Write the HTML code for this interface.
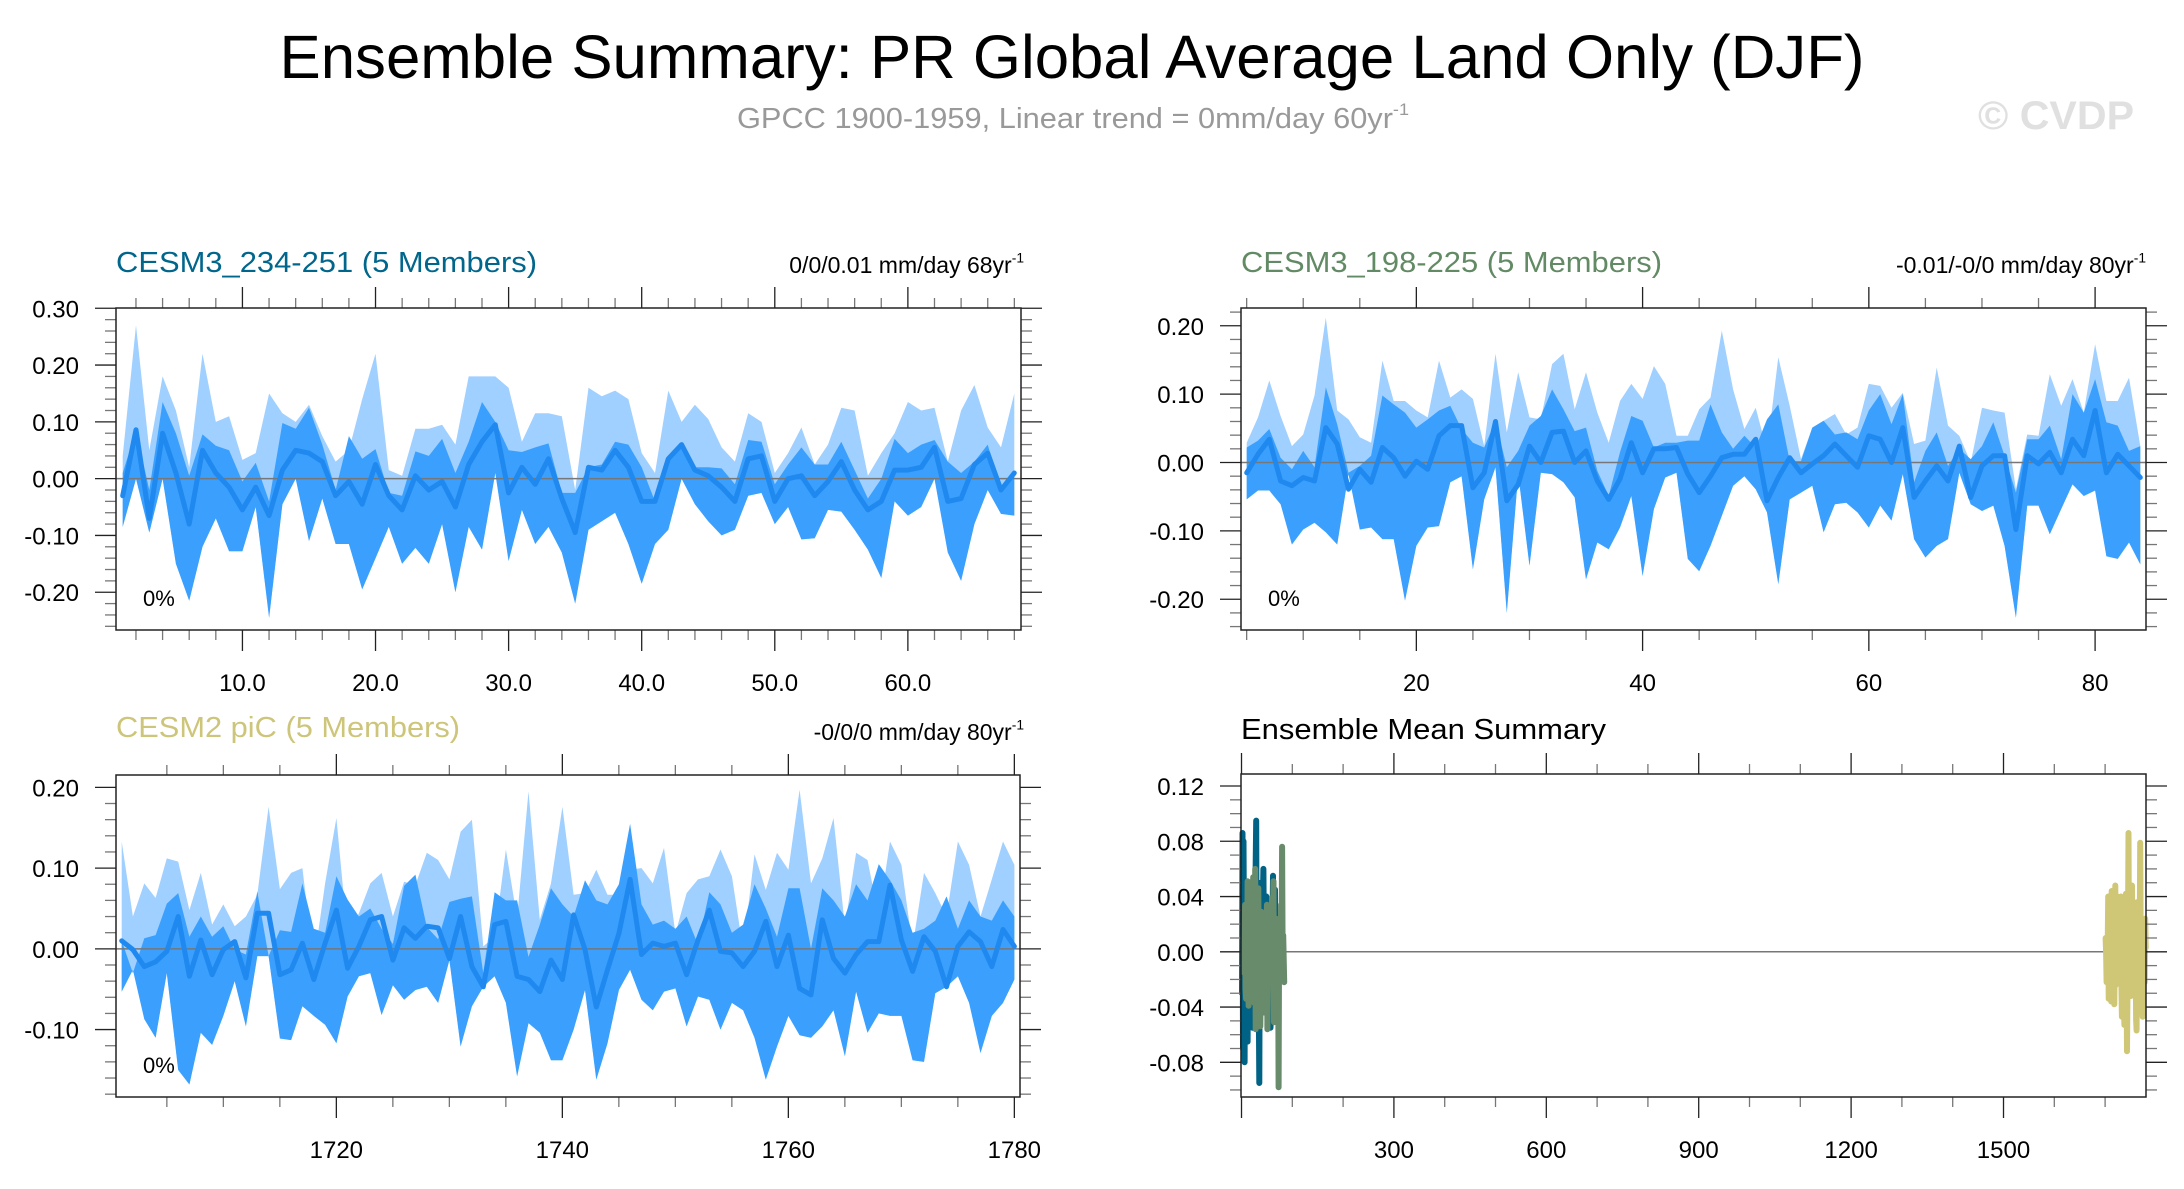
<!DOCTYPE html>
<html><head><meta charset="utf-8"><title>Ensemble Summary</title>
<style>html,body{margin:0;padding:0;background:#fff;}svg{display:block;font-family:"Liberation Sans",Arial,sans-serif;}</style>
</head><body>
<svg id="chart" xmlns="http://www.w3.org/2000/svg" width="2184" height="1189" viewBox="0 0 2184 1189">
<rect x="0" y="0" width="2184" height="1189" fill="#fff"/>
<text x="1072" y="78" text-anchor="middle" font-size="61" fill="#000" textLength="1585" lengthAdjust="spacingAndGlyphs">Ensemble Summary: PR Global Average Land Only (DJF)</text>
<text x="737" y="128" font-size="29" fill="#999" textLength="672" lengthAdjust="spacingAndGlyphs">GPCC 1900-1959, Linear trend = 0mm/day 60yr<tspan font-size="17" dy="-13">-1</tspan></text>
<text x="1978" y="129" font-size="40" font-weight="bold" fill="#e0e0e0" textLength="156" lengthAdjust="spacingAndGlyphs">© CVDP</text>
<g id="plots"></g>
</svg>
<script>
// ---- Panel 1: CESM3_234-251 ----
const p1Years = [];
for (let i = 1; i <= 68; i++) p1Years.push(i);
const p1Mean = [-0.03,0.086,-0.07,0.08,0.01,-0.08,0.05,0.01,-0.015,-0.055,-0.015,-0.065,0.015,0.05,0.045,0.03,-0.03,-0.005,-0.045,0.025,-0.03,-0.055,0.005,-0.02,-0.005,-0.05,0.025,0.065,0.095,-0.025,0.02,-0.01,0.035,-0.035,-0.095,0.02,0.015,0.05,0.02,-0.04,-0.04,0.035,0.06,0.015,0.005,-0.015,-0.04,0.035,0.04,-0.04,0,0.005,-0.03,-0.005,0.03,-0.02,-0.055,-0.04,0.015,0.015,0.02,0.055,-0.04,-0.035,0.025,0.045,-0.02,0.01];
const p1Max = [0.04,0.27,0.05,0.18,0.12,0.02,0.22,0.10,0.11,0.033,0.045,0.15,0.115,0.10,0.13,0.075,0.03,0.05,0.14,0.22,0.015,0.005,0.088,0.088,0.095,0.06,0.18,0.18,0.18,0.16,0.065,0.115,0.115,0.11,-0.02,0.16,0.145,0.155,0.14,0.045,0.01,0.155,0.10,0.13,0.105,0.055,0.03,0.115,0.10,0.01,0.045,0.09,0.025,0.06,0.125,0.12,0.005,0.045,0.08,0.135,0.12,0.125,0.03,0.12,0.165,0.09,0.055,0.15];
const p1Upper = [0.01,0.085,-0.02,0.135,0.08,0.005,0.078,0.058,0.05,-0.005,0.028,-0.04,0.098,0.088,0.125,0.06,-0.02,0.075,0.035,0.052,-0.025,-0.03,0.048,0.04,0.07,0.01,0.065,0.135,0.10,0.05,0.047,0.055,0.062,-0.025,-0.025,0.02,0.025,0.065,0.06,0.02,-0.04,0.035,0.055,0.02,0.02,0.018,-0.01,0.068,0.065,-0.01,0.025,0.055,0.025,0.025,0.065,0.015,-0.035,0.0,0.07,0.045,0.06,0.068,0.03,0.01,0.03,0.06,-0.02,0.005];
const p1Min = [-0.085,0.0,-0.095,0.0,-0.15,-0.215,-0.12,-0.07,-0.128,-0.128,-0.05,-0.245,-0.045,0.0,-0.11,-0.035,-0.115,-0.115,-0.195,-0.14,-0.085,-0.15,-0.122,-0.15,-0.08,-0.2,-0.085,-0.125,0.01,-0.145,-0.055,-0.115,-0.085,-0.13,-0.22,-0.09,-0.075,-0.06,-0.115,-0.185,-0.115,-0.09,0.0,-0.045,-0.075,-0.1,-0.09,-0.03,-0.025,-0.08,-0.05,-0.107,-0.105,-0.055,-0.058,-0.09,-0.125,-0.175,-0.04,-0.065,-0.05,0.0,-0.13,-0.18,-0.08,-0.02,-0.062,-0.065];
const p1XTicks = ["10.0","20.0","30.0","40.0","50.0","60.0"];
const p1YTicks = ["-0.20","-0.10","0.00","0.10","0.20","0.30"];

// ---- Panel 2: CESM3_198-225 ----
const p2Years = [];
for (let i = 5; i <= 84; i++) p2Years.push(i);
const p2Mean = [-0.015,0.012,0.034,-0.027,-0.034,-0.022,-0.027,0.051,0.027,-0.039,-0.010,-0.029,0.022,0.007,-0.020,0.002,-0.010,0.039,0.054,0.054,-0.037,-0.015,0.060,-0.056,-0.032,0.024,0,0.044,0.046,0,0.017,-0.027,-0.054,-0.024,0.029,-0.015,0.020,0.020,0.022,-0.017,-0.044,-0.020,0.007,0.012,0.012,0.034,-0.056,-0.022,0.007,-0.015,-0.002,0.010,0.027,0.010,-0.007,0.039,0.034,0,0.051,-0.051,-0.027,-0.005,-0.027,0.024,-0.051,-0.005,0.010,0.010,-0.098,0.010,-0.002,0.015,-0.015,0.034,0.010,0.076,-0.015,0.012,-0.005,-0.022];
const p2Max = [0.029,0.066,0.120,0.068,0.024,0.041,0.098,0.212,0.076,0.063,0.037,0.029,0.149,0.090,0.090,0.076,0.066,0.149,0.095,0.107,0.093,0.024,0.159,0.044,0.132,0.066,0.063,0.144,0.159,0.078,0.132,0.073,0.029,0.090,0.115,0.093,0.141,0.115,0.039,0.039,0.078,0.095,0.193,0.107,0.049,0.080,0.017,0.154,0.083,0.005,0.051,0.061,0.071,0.041,0.051,0.115,0.112,0.080,0.102,0.027,0.032,0.139,0.054,0.039,0.0,0.080,0.076,0.073,-0.039,0.041,0.039,0.129,0.083,0.122,0.073,0.173,0.090,0.090,0.124,0.024];
const p2Upper = [0.022,0.032,0.049,0.007,-0.010,0.017,-0.007,0.110,0.056,-0.015,-0.005,0.010,0.098,0.085,0.073,0.051,0.063,0.076,0.083,0.049,0.029,0.022,0.061,-0.007,0.017,0.054,0.068,0.107,0.078,0.046,0.051,-0.012,-0.049,0.015,0.068,0.061,0.022,0.029,0.029,0.032,0.032,0.085,0.044,0.020,0.039,0.022,0.063,0.085,0.002,0.002,0.051,0.061,0.041,0.044,0.034,0.076,0.100,0.056,0.100,-0.029,0.017,0.044,-0.005,0.020,0.005,0.024,0.059,0.010,-0.044,0.034,0.034,0.054,0.005,0.100,0.073,0.122,0.059,0.054,0.017,0.024];
const p2Min = [-0.054,-0.041,-0.041,-0.061,-0.120,-0.098,-0.088,-0.102,-0.120,-0.017,-0.098,-0.095,-0.112,-0.112,-0.202,-0.122,-0.095,-0.093,-0.029,-0.020,-0.156,-0.054,-0.007,-0.220,-0.017,-0.151,-0.015,-0.017,-0.029,-0.051,-0.171,-0.117,-0.127,-0.095,-0.049,-0.166,-0.068,-0.022,-0.015,-0.141,-0.159,-0.122,-0.078,-0.034,-0.020,-0.039,-0.073,-0.178,-0.054,-0.044,-0.034,-0.102,-0.061,-0.059,-0.073,-0.095,-0.063,-0.085,-0.017,-0.112,-0.139,-0.122,-0.112,-0.015,-0.061,-0.071,-0.063,-0.122,-0.227,-0.063,-0.063,-0.105,-0.068,-0.032,-0.049,-0.041,-0.137,-0.141,-0.117,-0.149];
const p2XTicks = ["20","40","60","80"];
const p2YTicks = ["-0.20","-0.10","0.00","0.10","0.20"];

// ---- Panel 3: CESM2 piC ----
const p3Years = [];
for (let i = 1701; i <= 1780; i++) p3Years.push(i);
const p3Mean = [0.010,-0.001,-0.022,-0.016,-0.003,0.040,-0.034,0.011,-0.032,-0.001,0.009,-0.036,0.044,0.044,-0.032,-0.026,0.007,-0.038,0.007,0.048,-0.024,0.003,0.036,0.040,-0.014,0.026,0.013,0.028,0.026,-0.012,0.040,-0.022,-0.047,0.030,0.034,-0.034,-0.038,-0.053,-0.014,-0.038,0.042,-0.001,-0.072,-0.026,0.019,0.086,-0.007,0.007,0.003,0.007,-0.032,0.011,0.048,-0.003,-0.005,-0.022,-0.003,0.034,-0.022,0.017,-0.049,-0.057,0.036,-0.012,-0.030,-0.007,0.009,0.009,0.079,0.011,-0.028,0.015,-0.003,-0.047,0.003,0.021,0.009,-0.022,0.024,0.003];
const p3Max = [0.133,0.040,0.081,0.063,0.112,0.108,0.048,0.094,0.030,0.055,0.028,0.040,0.067,0.176,0.074,0.094,0.100,-0.018,0.081,0.162,0.015,0.044,0.081,0.094,0.040,0.083,0.079,0.119,0.110,0.086,0.145,0.160,0.003,0.015,0.123,0.038,0.195,0.036,0.081,0.176,0.067,0.069,0.098,0.067,0.067,0.098,0.100,0.081,0.125,0.019,0.069,0.086,0.090,0.123,0.090,-0.001,0.117,0.073,0.119,0.098,0.197,0.081,0.112,0.162,0.028,0.119,0.110,0.040,0.133,0.104,0.003,0.094,0.069,0.040,0.133,0.104,0.040,0.086,0.133,0.104];
const p3Upper = [0.010,-0.030,0.013,0.017,0.056,0.069,0.015,0.040,0.015,0.028,-0.001,-0.007,0.071,-0.009,0.023,0.021,0.081,0.025,0.020,0.090,0.061,0.040,0.050,0.025,0.006,0.078,0.092,0.027,0.012,0.058,0.062,0.065,-0.030,0.070,0.060,0.060,-0.010,0.030,0.075,0.055,0.040,0.085,0.060,0.055,0.080,0.155,0.055,0.030,0.035,0.025,0.040,0.005,0.070,0.055,0.020,0.030,0.080,0.050,0.015,0.075,0.075,0.000,0.075,0.060,0.040,0.080,0.060,0.105,0.085,0.060,0.020,0.025,0.035,0.065,0.025,0.060,0.040,0.035,0.060,0.040];
const p3Min = [-0.053,-0.026,-0.087,-0.110,-0.030,-0.150,-0.168,-0.104,-0.119,-0.083,-0.040,-0.096,-0.009,-0.009,-0.111,-0.113,-0.071,-0.083,-0.094,-0.117,-0.059,-0.034,-0.030,-0.082,-0.045,-0.063,-0.051,-0.047,-0.067,-0.014,-0.121,-0.071,-0.047,-0.034,-0.067,-0.158,-0.092,-0.104,-0.138,-0.138,-0.100,-0.051,-0.162,-0.117,-0.051,-0.026,-0.063,-0.076,-0.053,-0.049,-0.096,-0.059,-0.063,-0.100,-0.067,-0.076,-0.110,-0.162,-0.121,-0.083,-0.107,-0.110,-0.096,-0.076,-0.133,-0.053,-0.104,-0.080,-0.083,-0.083,-0.138,-0.140,-0.055,-0.047,-0.034,-0.067,-0.129,-0.083,-0.067,-0.038];
const p3XTicks = ["1720","1740","1760","1780"];
const p3YTicks = ["-0.10","0.00","0.10","0.20"];

// ---- Panel 4: ensemble means ----
const p4XTicks = ["300","600","900","1200","1500"];
const p4YTicks = ["-0.08","-0.04","0.00","0.04","0.08","0.12"];

const NS = "http://www.w3.org/2000/svg";
const root = document.getElementById('plots');
function mk(tag, parent) { const e = document.createElementNS(NS, tag); parent.appendChild(e); return e; }

const panels = [
  {key:'p1', box:[116,308,1021,630], xd:[0.5,68.5], yd:[-0.2665,0.3005], xMaj:10, xMin:2, xStart:10, yMaj:0.1, yMin:0.02, yStart:-0.2, xt:p1XTicks, yt:p1YTicks},
  {key:'p2', box:[1241,308,2146,630], xd:[4.5,84.5], yd:[-0.245,0.226], xMaj:20, xMin:5, xStart:20, yMaj:0.1, yMin:0.02, yStart:-0.2, xt:p2XTicks, yt:p2YTicks},
  {key:'p3', box:[116,775,1020,1097], xd:[1700.5,1780.5], yd:[-0.1835,0.2153], xMaj:20, xMin:5, xStart:1720, yMaj:0.1, yMin:0.02, yStart:-0.1, xt:p3XTicks, yt:p3YTicks},
  {key:'p4', box:[1241,774,2146,1097], xd:[-1,1780.5], yd:[-0.1051,0.1287], xMaj:300, xMin:100, xStart:300, yMaj:0.04, yMin:0.01, yStart:-0.08, xt:p4XTicks, yt:p4YTicks}
];

function scales(p) {
  const [x0,y0,x1,y1] = p.box;
  return {
    x: v => x0 + (v - p.xd[0]) / (p.xd[1] - p.xd[0]) * (x1 - x0),
    y: v => y1 - (v - p.yd[0]) / (p.yd[1] - p.yd[0]) * (y1 - y0)
  };
}

function drawAxes(p, g) {
  const s = scales(p);
  const [x0,y0,x1,y1] = p.box;
  const ticks = mk('g', g);
  
  
  ticks.setAttribute('stroke', '#222');
  ticks.setAttribute('stroke-width', '1.3');
  for (let v = Math.ceil(p.xd[0] / p.xMin) * p.xMin; v <= p.xd[1] + 1e-9; v += p.xMin) {
    const X = s.x(v);
    if (X < x0 - 0.5 || X > x1 + 0.5) continue;
    const major = Math.abs(((v - p.xStart) / p.xMaj) - Math.round((v - p.xStart) / p.xMaj)) < 1e-6;
    const L = major ? 21 : 10;
    const t1 = mk('line', ticks);
    
    
    t1.setAttribute('x1', X); t1.setAttribute('x2', X); t1.setAttribute('y1', y0); t1.setAttribute('y2', y0 - L);
    if (!major) t1.setAttribute('stroke', '#777');
    const t2 = mk('line', ticks);
    
    
    t2.setAttribute('x1', X); t2.setAttribute('x2', X); t2.setAttribute('y1', y1); t2.setAttribute('y2', y1 + L);
    if (!major) t2.setAttribute('stroke', '#777');
  }
  for (let k = Math.ceil((p.yd[0]) / p.yMin - 1e-6); k * p.yMin <= p.yd[1] + 1e-9; k++) {
    const v = k * p.yMin;
    const Y = s.y(v);
    const r = (v - p.yStart) / p.yMaj;
    const major = Math.abs(r - Math.round(r)) < 1e-6;
    const L = major ? 21 : 11;
    const t1 = mk('line', ticks);
    
    
    t1.setAttribute('x1', x0); t1.setAttribute('x2', x0 - L); t1.setAttribute('y1', Y); t1.setAttribute('y2', Y);
    if (!major) t1.setAttribute('stroke', '#777');
    const t2 = mk('line', ticks);
    
    
    t2.setAttribute('x1', x1); t2.setAttribute('x2', x1 + L); t2.setAttribute('y1', Y); t2.setAttribute('y2', Y);
    if (!major) t2.setAttribute('stroke', '#777');
  }
  p.xt.forEach(lbl => {
    const t = mk('text', g);
    
    
    t.setAttribute('x', s.x(parseFloat(lbl)));
    t.setAttribute('y', y1 + 61);
    t.setAttribute('text-anchor', 'middle');
    t.setAttribute('font-size', '24');
    t.textContent = lbl;
  });
  p.yt.forEach(lbl => {
    const t = mk('text', g);
    
    
    t.setAttribute('x', x0 - 37);
    t.setAttribute('y', s.y(parseFloat(lbl)) + 9);
    t.setAttribute('text-anchor', 'end');
    t.setAttribute('font-size', '24');
    t.textContent = lbl;
  });
  const frame = mk('rect', g);
  
  
  frame.setAttribute('x', x0); frame.setAttribute('y', y0);
  frame.setAttribute('width', x1 - x0); frame.setAttribute('height', y1 - y0);
  frame.setAttribute('fill', 'none'); frame.setAttribute('stroke', '#222'); frame.setAttribute('stroke-width', '1.5');
}

function zeroLine(p, g) {
  const s = scales(p);
  const z = mk('line', g);
  
  
  z.setAttribute('x1', p.box[0]); z.setAttribute('x2', p.box[2]);
  z.setAttribute('y1', s.y(0)); z.setAttribute('y2', s.y(0));
  z.setAttribute('stroke', '#777'); z.setAttribute('stroke-width', '1.5');
}

function band(p, g, xs, top, bot, color, name) {
  const s = scales(p);
  const pts = [];
  xs.forEach((x, i) => pts.push(s.x(x).toFixed(1) + ',' + s.y(top[i]).toFixed(1)));
  for (let i = xs.length - 1; i >= 0; i--) pts.push(s.x(xs[i]).toFixed(1) + ',' + s.y(bot[i]).toFixed(1));
  const poly = mk('polygon', g);
  
  
  poly.setAttribute('points', pts.join(' '));
  poly.setAttribute('fill', color);
}

function line(p, g, xs, ys, color, w, name) {
  const s = scales(p);
  const pl = mk('polyline', g);
  
  
  pl.setAttribute('points', xs.map((x, i) => s.x(x).toFixed(1) + ',' + s.y(ys[i]).toFixed(1)).join(' '));
  pl.setAttribute('fill', 'none');
  pl.setAttribute('stroke', color);
  pl.setAttribute('stroke-width', w);
  pl.setAttribute('stroke-linejoin', 'round');
  pl.setAttribute('stroke-linecap', 'round');
}

function label(g, x, y, txt, size, color, anchor, name, sup, tl) {
  const t = mk('text', g);
  
  
  t.setAttribute('x', x); t.setAttribute('y', y);
  t.setAttribute('font-size', size); t.setAttribute('fill', color);
  if (anchor) t.setAttribute('text-anchor', anchor);
  if (tl) { t.setAttribute('textLength', tl); t.setAttribute('lengthAdjust', 'spacingAndGlyphs'); }
  t.appendChild(document.createTextNode(txt));
  if (sup) {
    const ts = document.createElementNS(NS, 'tspan');
    ts.setAttribute('font-size', size * 0.6);
    ts.setAttribute('dy', -size * 0.45);
    ts.textContent = sup;
    t.appendChild(ts);
  }
  return t;
}

const LIGHT = '#a0d0ff', DARK = '#3ba0fd', MEAN = '#2089f0';
const series = [
  [panels[0], p1Years, p1Max, p1Upper, p1Min, p1Mean],
  [panels[1], p2Years, p2Max, p2Upper, p2Min, p2Mean],
  [panels[2], p3Years, p3Max, p3Upper, p3Min, p3Mean]
];
series.forEach(([p, xs, mx, up, mn, me]) => {
  const g = mk('g', root);
  
  
  band(p, g, xs, mx, mn, LIGHT, p.key + '-range-band');
  band(p, g, xs, up, mn, DARK, p.key + '-inner-band');
  zeroLine(p, g);
  line(p, g, xs, me, MEAN, 5, p.key + '-mean-line');
  drawAxes(p, g);
  label(g, p.box[0] + 27, p.box[3] - 24, '0%', 22, '#000', null, p.key + '-percent-label');
});

const g4 = mk('g', root);


zeroLine(panels[3], g4);
line(panels[3], g4, p1Years, p1Mean, '#006285', 6, 'p4-cesm3-234-mean');
line(panels[3], g4, p2Years, p2Mean, '#688b6b', 6, 'p4-cesm3-198-mean');
line(panels[3], g4, p3Years, p3Mean, '#cfc776', 6, 'p4-cesm2-pic-mean');
drawAxes(panels[3], g4);

const tg = mk('g', root);


label(tg, 116, 272, 'CESM3_234-251 (5 Members)', 29, '#00668c', null, 'p1-title', null, 421);
label(tg, 1024, 273, '0/0/0.01 mm/day 68yr', 23, '#000', 'end', 'p1-trend', '-1');
label(tg, 1241, 272, 'CESM3_198-225 (5 Members)', 29, '#628a64', null, 'p2-title', null, 421);
label(tg, 2146, 273, '-0.01/-0/0 mm/day 80yr', 23, '#000', 'end', 'p2-trend', '-1');
label(tg, 116, 737, 'CESM2 piC (5 Members)', 29, '#cdc57a', null, 'p3-title', null, 344);
label(tg, 1024, 740, '-0/0/0 mm/day 80yr', 23, '#000', 'end', 'p3-trend', '-1');
label(tg, 1241, 739, 'Ensemble Mean Summary', 29, '#000', null, 'p4-title', null, 365);
</script>
</body></html>
